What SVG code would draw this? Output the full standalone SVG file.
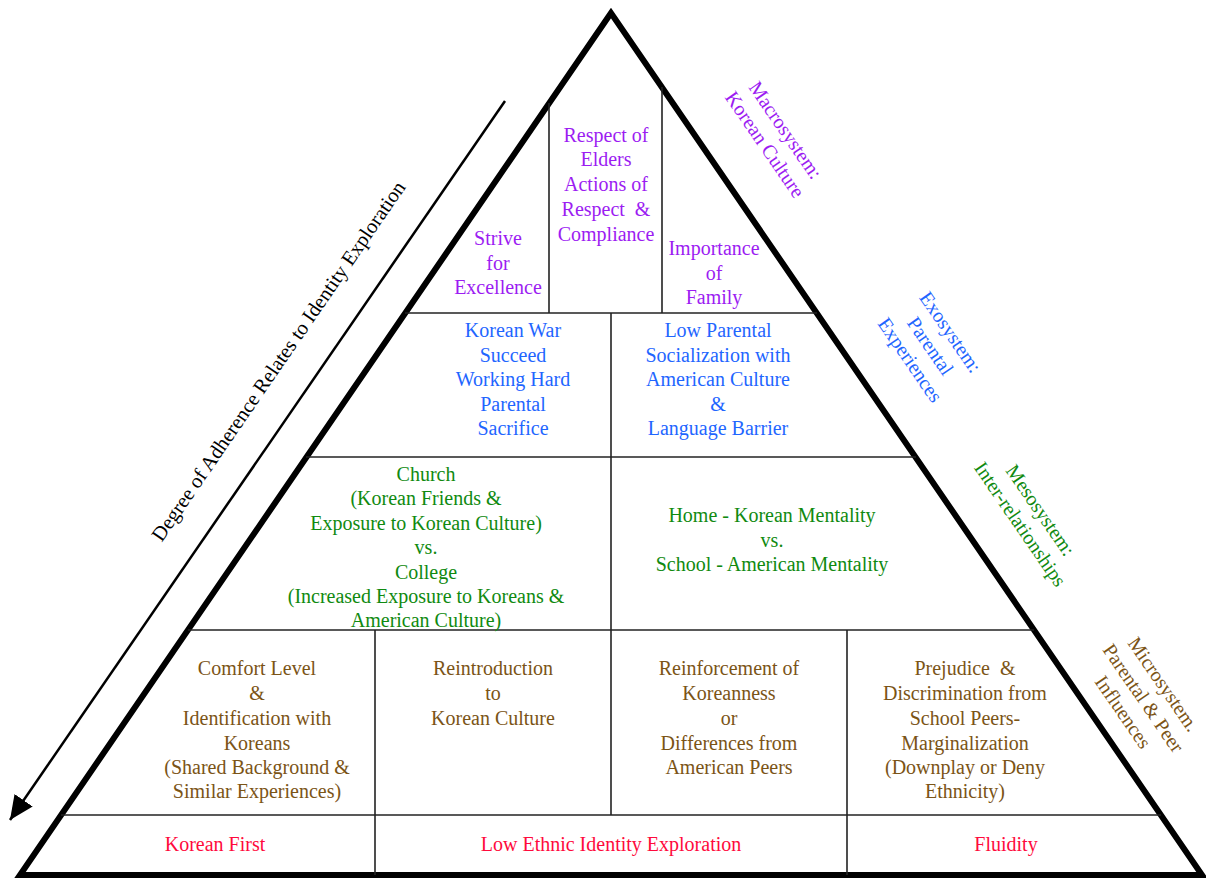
<svg xmlns="http://www.w3.org/2000/svg" width="1206" height="878" viewBox="0 0 1206 878">
<defs>
<style>
text{font-family:"Liberation Serif","Times New Roman",serif;font-size:20px;text-anchor:middle}
.pu{fill:#9c1cf2}.bl{fill:#1f66ff}.gr{fill:#108a10}.br{fill:#7b5416}.rd{fill:#ff0a3c}.bk{fill:#000}
.grid{stroke:#222;stroke-width:1.6;fill:none}
.tri{stroke:#000;stroke-width:6;fill:none;stroke-linejoin:miter}
</style>
<marker id="ah" markerUnits="userSpaceOnUse" markerWidth="26" markerHeight="22" refX="24" refY="11" orient="auto">
<path d="M0,0 L24,11 L0,22 z" fill="#000"/>
</marker>
</defs>
<rect width="1206" height="878" fill="#fff"/>
<g id="pyramid">
<polygon class="tri" points="611,13 20,875 1202,875"/>
</g>
<g id="connectors">
<line class="grid" x1="405" y1="313" x2="817" y2="313"/>
<line class="grid" x1="306" y1="457" x2="916" y2="457"/>
<line class="grid" x1="188" y1="630" x2="1034" y2="630"/>
<line class="grid" x1="61" y1="815" x2="1161" y2="815"/>
<line class="grid" x1="549" y1="103" x2="549" y2="313"/>
<line class="grid" x1="662" y1="87" x2="662" y2="313"/>
<line class="grid" x1="611" y1="313" x2="611" y2="630"/>
<line class="grid" x1="375" y1="630" x2="375" y2="875"/>
<line class="grid" x1="611" y1="630" x2="611" y2="815"/>
<line class="grid" x1="847" y1="630" x2="847" y2="875"/>
<line x1="505" y1="101" x2="10" y2="820" stroke="#000" stroke-width="2.5" marker-end="url(#ah)"/>
</g>
<g id="arrow-label">
<text class="bk" style="font-size:20.5px" transform="translate(284,365) rotate(-55.5)">Degree of Adherence Relates to Identity Exploration</text>
</g>
<g id="macro">
<text class="pu"><tspan x="498" y="245">Strive</tspan><tspan x="498" y="270">for</tspan><tspan x="498" y="294">Excellence</tspan></text>
<text class="pu"><tspan x="606" y="142">Respect of</tspan><tspan x="606" y="166">Elders</tspan><tspan x="606" y="191">Actions of</tspan><tspan x="606" y="216" xml:space="preserve">Respect  &amp;</tspan><tspan x="606" y="241">Compliance</tspan></text>
<text class="pu"><tspan x="714" y="255">Importance</tspan><tspan x="714" y="280">of</tspan><tspan x="714" y="304">Family</tspan></text>
<text class="pu" transform="translate(780,134) rotate(55.5)"><tspan x="0" y="0">Macrosystem:</tspan><tspan x="0" y="25">Korean Culture</tspan></text>
</g>
<g id="exo">
<text class="bl"><tspan x="513" y="337">Korean War</tspan><tspan x="513" y="362">Succeed</tspan><tspan x="513" y="386">Working Hard</tspan><tspan x="513" y="411">Parental</tspan><tspan x="513" y="435">Sacrifice</tspan></text>
<text class="bl"><tspan x="718" y="337">Low Parental</tspan><tspan x="718" y="362">Socialization with</tspan><tspan x="718" y="386">American Culture</tspan><tspan x="718" y="411">&amp;</tspan><tspan x="718" y="435">Language Barrier</tspan></text>
<text class="bl" transform="translate(945,336) rotate(55.5)"><tspan x="0" y="0">Exosystem:</tspan><tspan x="0" y="24.5">Parental</tspan><tspan x="0" y="49">Experiences</tspan></text>
</g>
<g id="meso">
<text class="gr"><tspan x="426" y="481">Church</tspan><tspan x="426" y="505">(Korean Friends &amp;</tspan><tspan x="426" y="530">Exposure to Korean Culture)</tspan><tspan x="426" y="554">vs.</tspan><tspan x="426" y="579">College</tspan><tspan x="426" y="603">(Increased Exposure to Koreans &amp;</tspan><tspan x="426" y="627">American Culture)</tspan></text>
<text class="gr"><tspan x="772" y="522">Home - Korean Mentality</tspan><tspan x="772" y="547">vs.</tspan><tspan x="772" y="571">School - American Mentality</tspan></text>
<text class="gr" transform="translate(1035,514) rotate(55.5)"><tspan x="0" y="0">Mesosystem:</tspan><tspan x="0" y="24.5">Inter-relationships</tspan></text>
</g>
<g id="micro">
<text class="br"><tspan x="257" y="675">Comfort Level</tspan><tspan x="257" y="700">&amp;</tspan><tspan x="257" y="725">Identification with</tspan><tspan x="257" y="750">Koreans</tspan><tspan x="257" y="774">(Shared Background &amp;</tspan><tspan x="257" y="798">Similar Experiences)</tspan></text>
<text class="br"><tspan x="493" y="675">Reintroduction</tspan><tspan x="493" y="700">to</tspan><tspan x="493" y="725">Korean Culture</tspan></text>
<text class="br"><tspan x="729" y="675">Reinforcement of</tspan><tspan x="729" y="700">Koreanness</tspan><tspan x="729" y="725">or</tspan><tspan x="729" y="750">Differences from</tspan><tspan x="729" y="774">American Peers</tspan></text>
<text class="br"><tspan x="965" y="675" xml:space="preserve">Prejudice  &amp;</tspan><tspan x="965" y="700">Discrimination from</tspan><tspan x="965" y="725">School Peers-</tspan><tspan x="965" y="750">Marginalization</tspan><tspan x="965" y="774">(Downplay or Deny</tspan><tspan x="965" y="798">Ethnicity)</tspan></text>
<text class="br" transform="translate(1158,688) rotate(55.5)"><tspan x="0" y="0">Microsystem.</tspan><tspan x="0" y="24.5">Parental &amp; Peer</tspan><tspan x="0" y="49">Influences</tspan></text>
</g>
<g id="outcomes">
<text class="rd" x="215" y="851">Korean First</text>
<text class="rd" x="611" y="851">Low Ethnic Identity Exploration</text>
<text class="rd" x="1006" y="851">Fluidity</text>
</g>
</svg>
